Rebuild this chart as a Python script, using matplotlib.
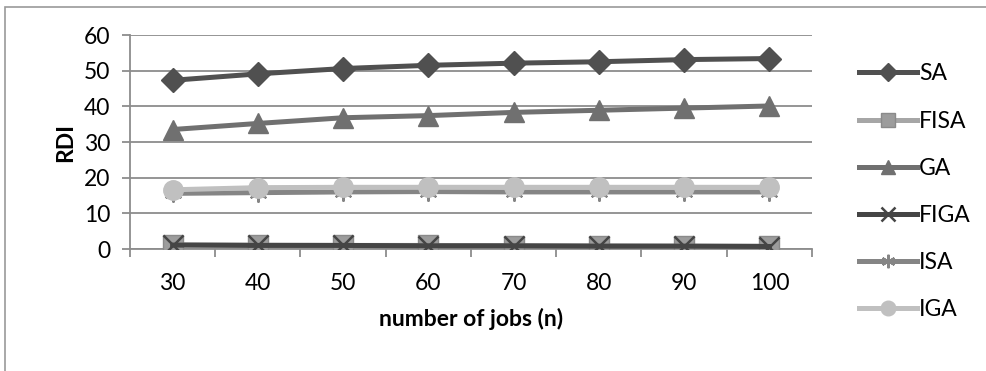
import matplotlib
matplotlib.use("Agg")
from matplotlib import pyplot as plt
from matplotlib.patches import Rectangle

plt.rcParams['font.family'] = ['Lato', 'DejaVu Sans']

jobs = ["30", "40", "50", "60", "70", "80", "90", "100"]
sa = [47.3, 49.1, 50.6, 51.5, 52.1, 52.5, 53.1, 53.4]
fisa = [1.2, 1.1, 1.0, 1.0, 0.9, 0.9, 0.8, 0.8]
ga = [33.5, 35.2, 36.8, 37.4, 38.3, 38.9, 39.5, 40.1]
figa = [1.1, 1.0, 1.0, 0.9, 0.9, 0.8, 0.8, 0.7]
isa = [15.6, 15.8, 16.0, 16.1, 16.0, 16.0, 16.0, 16.0]
iga = [16.6, 17.2, 17.3, 17.3, 17.3, 17.3, 17.3, 17.3]

fig = plt.figure(figsize=(9.87, 3.71), dpi=100)
fig.patches.append(Rectangle((5 / 987, -0.1), 1.2, 1.1 - 7 / 371,
                             transform=fig.transFigure, fill=False,
                             edgecolor="#9a9a9a", linewidth=1.2))
ax = fig.add_axes([130 / 987, 1 - 249 / 371, 682 / 987, 214 / 371])

x = range(len(jobs))
lw = 3.6
ax.plot(x, sa, color="#505050", lw=lw, marker="D", ms=12, label="SA", zorder=3)
ax.plot(x, fisa, color="#a6a6a6", lw=lw, marker="s", ms=14, mfc="#9c9c9c",
        mec="#8a8a8a", label="FISA", zorder=3)
ax.plot(x, ga, color="#707070", lw=lw, marker="^", ms=14, label="GA", zorder=3)
ax.plot(x, figa, color="#454545", lw=lw, marker="x", ms=14, mew=1.8,
        label="FIGA", zorder=4)
ax.plot(x, isa, color="#858585", lw=lw, marker=(6, 2, 0), ms=13, mew=1.5,
        label="ISA", zorder=3)
ax.plot(x, iga, color="#c0c0c0", lw=lw, marker="o", ms=14, label="IGA", zorder=4)

ax.set_xlim(-0.5, 7.5)
ax.set_ylim(0, 60)
ax.set_yticks(range(0, 61, 10))
ax.yaxis.grid(True, color="#8c8c8c", lw=1.3)
ax.set_axisbelow(True)
ax.set_xticks([i - 0.5 for i in range(9)])
ax.set_xticklabels([])
ax.set_xticks(list(x), minor=True)
ax.set_xticklabels(jobs, minor=True)
ax.tick_params(axis="x", which="major", length=6, color="#8c8c8c", width=1.3)
ax.tick_params(axis="x", which="minor", length=0, pad=17, labelsize=16.5)
ax.tick_params(axis="y", length=6, color="#8c8c8c", width=1.3, pad=8, labelsize=16.5)
for s in ["top", "right"]:
    ax.spines[s].set_visible(False)
for s in ["left", "bottom"]:
    ax.spines[s].set_color("#8c8c8c")
    ax.spines[s].set_linewidth(1.3)

ax.set_xlabel("number of jobs (n)", fontsize=16.5, fontweight="bold", labelpad=10)
ax.set_ylabel("RDI", fontsize=16.5, fontweight="bold", labelpad=6)

fig.legend(loc="upper left", bbox_to_anchor=(848 / 987, 1 - 52 / 371),
           frameon=False, fontsize=16.5, handlelength=2.5, handletextpad=0.1,
           labelspacing=1.14, markerscale=0.75, borderpad=0)

fig.savefig("out.png", dpi=100)
